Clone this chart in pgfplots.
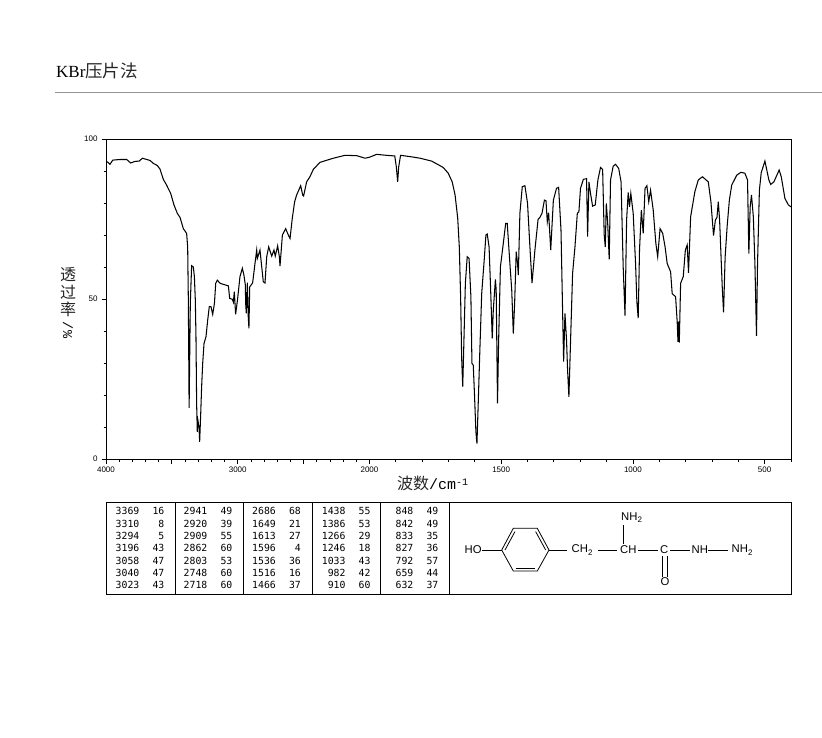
\documentclass[border=0pt]{standalone}
\usepackage{pgfplots}
\pgfplotsset{compat=1.18}
\usepackage{pgfplotstable}
\usepackage{fontspec}
\setmainfont{Liberation Serif}
\newfontfamily\cjk{Noto Sans CJK SC}
\newfontfamily\lsans{Liberation Sans}
\newfontfamily\dmono{DejaVu Sans Mono}
\newfontfamily\lmono{Liberation Mono}
\pgfplotstableread{
wn T
4000 93.1
3985 92.7
3970 92.1
3949 93.4
3894 93.6
3843 93.6
3813 92.5
3780 93
3747 93.1
3724 94
3666 93.3
3641 92.4
3610 91.7
3590 90.6
3565 87.4
3540 85.6
3509 83
3484 79.4
3459 76.8
3438 75.5
3413 72
3388 70.5
3380 66.3
3375 49.7
3369 16
3360 48.6
3350 60.4
3337 60
3329 57
3322 49.7
3317 38.2
3312 17.4
3307 8.5
3302 12
3294 10
3289 5.4
3281 14.2
3274 22.6
3266 29.9
3256 36.1
3241 38.2
3228 43.4
3216 47.6
3203 47.6
3190 45.2
3177 48.6
3167 54.9
3155 55.9
3134 54.9
3071 54.1
3061 50.2
3041 49.9
3033 49
3026 52.3
3016 45.2
3001 50
2983 57
2965 59.6
2953 57.5
2942 54.3
2940 48.8
2935 45.5
2927 55.1
2920 44.4
2915 40.8
2909 53.8
2887 55
2869 61.1
2856 65.3
2851 62.7
2831 65.3
2818 60.1
2806 55.4
2793 55
2780 63.2
2765 66.3
2742 63.4
2725 65.3
2715 63.4
2697 66.6
2684 63.2
2679 60.3
2661 70
2636 72
2616 70
2603 68.9
2586 75.2
2568 80.4
2553 82.5
2522 85.4
2507 82.5
2500 82.2
2477 86.6
2452 88.2
2426 90.5
2376 92.7
2274 94
2186 94.9
2097 94.8
2034 94
2000 94.3
1973 95.2
1935 94.9
1904 94.7
1898 91.3
1893 86.6
1889 91.3
1882 94.9
1846 94.5
1808 94
1764 93.1
1720 91.1
1701 89.3
1686 86.6
1675 82.5
1665 75.2
1659 66.3
1654 50.7
1650 31.4
1646 22.6
1643 32
1636 54.9
1629 63.2
1622 62.7
1615 50.7
1611 29.9
1606 29.3
1601 19.4
1596 8.5
1592 4.8
1586 20.5
1581 34
1574 51.7
1565 61.6
1558 70
1553 70.3
1546 66.3
1540 52.8
1534 37.7
1530 46.5
1522 56.1
1519 52.8
1514 17.4
1510 36
1503 60
1492 67.4
1483 73.6
1477 73.6
1467 61.1
1460 52.8
1454 39.2
1449 48.6
1443 64.8
1438 61.1
1435 57.5
1429 76.8
1420 85.1
1410 85.4
1400 79.9
1391 66.3
1383 55
1372 65.3
1360 74.9
1353 75.5
1345 76.8
1336 80.9
1330 80.7
1325 74.1
1320 77
1312 65.3
1302 80.9
1290 84.6
1282 84.9
1273 71.5
1267 46.5
1263 30.4
1258 45.5
1252 37.2
1248 27.8
1243 19.4
1237 36.1
1229 58
1220 66.3
1211 76.8
1205 77.3
1199 84.6
1188 87.4
1176 87.6
1172 69.5
1167 86.6
1161 83
1153 79
1143 79.4
1133 87.2
1123 91.1
1115 90.5
1109 70
1105 66.3
1101 79.9
1096 74.1
1090 62.4
1085 87.2
1075 91.5
1066 92.1
1054 90.8
1045 86.6
1037 60.1
1030 44.8
1024 74.7
1018 83.3
1013 78.8
1008 83
999 76.8
990 61.1
985 49.1
980 44
975 65.3
968 77.8
961 70.5
954 84.6
947 85.4
940 80.4
933 84
923 77.8
913 67.4
906 63.2
897 72
887 70.5
878 66.3
870 61.1
857 58.5
851 51.7
838 50.7
832 42.9
829 36.6
827 42.9
824 36.4
819 54.9
809 57
801 65.3
794 66.9
789 58.2
781 75.7
765 83.5
752 87.2
736 88.2
714 86.6
704 80.4
694 69.8
687 74.7
681 75.5
676 80.4
671 74.7
667 66.3
661 53.8
656 45.8
650 63.2
642 73.1
634 80.9
625 85.6
606 88.7
590 89.6
575 89.3
565 87.2
560 64.2
555 78.8
550 82.5
543 75.7
537 61.1
531 38.5
527 61.1
520 84
513 89.5
499 93.1
484 87.2
477 85.8
465 86.6
445 90.3
437 88.2
423 81.4
410 79.4
400 78.8
}\spectrum
\begin{document}
\begin{tikzpicture}
\path[use as bounding box] (0pt,0pt) rectangle (822pt,-737pt);
\begin{axis}[
  at={(106pt,-459pt)}, anchor=south west,
  scale only axis, width=685pt, height=320pt,
  x coord trafo/.code={\pgfmathparse{#1>=2000?(4000-#1)/2:1000+(2000-#1)}},
  xmin=4000, xmax=400, ymin=0, ymax=100,
  axis line style={black,line width=0.9pt},
  xtick={4000,3500,3000,2500,2000,1500,1000,500},
  xticklabels={4000,,3000,,2000,1500,1000,500},
  minor xtick={3900,3800,3700,3600,3400,3300,3200,3100,2900,2800,2700,2600,2400,2300,2200,2100,1900,1800,1700,1600,1400,1300,1200,1100,900,800,700,600,400},
  ytick={0,50,100}, yticklabels={0,50,100},
  minor ytick={10,20,30,40,60,70,80,90},
  tick align=outside, xtick pos=lower, ytick pos=left,
  major tick length=4.5pt, minor tick length=2.5pt,
  tick style={black,line width=0.8pt},
  every tick label/.append style={font=\lsans\fontsize{8}{8}\selectfont},
  yticklabel style={xshift=-0.5pt},
  clip=true,
]
\addplot[black,line width=1.05pt,sharp plot,no marks,line join=miter] table[x=wn,y=T] {\spectrum};
\end{axis}
\begin{scope}[x=1pt,y=-1pt]
% title
\node[anchor=west,inner sep=0pt,font=\fontsize{17}{17}\selectfont] at (56,71) {KBr{\cjk\color{black!85}\fontsize{17.5}{17.5}\selectfont 压片法}};
\draw[color=black!42,line width=1.3pt] (55,92.7) -- (822,92.7);
% y label
\foreach \c/\yy in {透/275,过/292,率/309}
  \node[inner sep=0pt,font=\cjk\fontsize{16}{16}\selectfont,color=black!85] at (68,\yy) {\c};
\node[inner sep=0pt,rotate=-90,font=\lmono\fontsize{13.5}{14}\selectfont] at (68,330) {/\%};
% x label
\node[anchor=west,inner sep=0pt,font=\lmono\fontsize{15}{15}\selectfont] at (397,483) {{\cjk\fontsize{16}{16}\selectfont\color{black!85}波数}/cm\raisebox{4pt}{\fontsize{10}{10}\selectfont -1}};
% table frame
\draw[black,line width=0.9pt] (106,502) rectangle (791,594);
\foreach \xx in {175.3,243.3,312.3,380.3,449.4} \draw[black,line width=0.9pt] (\xx,502)--(\xx,594);
\def\tnum#1#2#3#4{\node[anchor=east,inner sep=0pt,font=\dmono\fontsize{9.8}{10}\selectfont] at (#1,#2) {#3};\node[anchor=east,inner sep=0pt,font=\dmono\fontsize{9.8}{10}\selectfont] at (#1+25,#2) {#4};}
\tnum{139.5}{510.5}{3369}{16}\tnum{139.5}{523.5}{3310}{8}\tnum{139.5}{536}{3294}{5}\tnum{139.5}{548}{3196}{43}\tnum{139.5}{561}{3058}{47}\tnum{139.5}{573}{3040}{47}\tnum{139.5}{585}{3023}{43}
\tnum{207.5}{510.5}{2941}{49}\tnum{207.5}{523.5}{2920}{39}\tnum{207.5}{536}{2909}{55}\tnum{207.5}{548}{2862}{60}\tnum{207.5}{561}{2803}{53}\tnum{207.5}{573}{2748}{60}\tnum{207.5}{585}{2718}{60}
\tnum{276}{510.5}{2686}{68}\tnum{276}{523.5}{1649}{21}\tnum{276}{536}{1613}{27}\tnum{276}{548}{1596}{4}\tnum{276}{561}{1536}{36}\tnum{276}{573}{1516}{16}\tnum{276}{585}{1466}{37}
\tnum{345.7}{510.5}{1438}{55}\tnum{345.7}{523.5}{1386}{53}\tnum{345.7}{536}{1266}{29}\tnum{345.7}{548}{1246}{18}\tnum{345.7}{561}{1033}{43}\tnum{345.7}{573}{982}{42}\tnum{345.7}{585}{910}{60}
\tnum{413.5}{510.5}{848}{49}\tnum{413.5}{523.5}{842}{49}\tnum{413.5}{536}{833}{35}\tnum{413.5}{548}{827}{36}\tnum{413.5}{561}{792}{57}\tnum{413.5}{573}{659}{44}\tnum{413.5}{585}{632}{37}
% structure
\begin{scope}[black,line width=0.8pt]
\draw (501.7,550)--(513.3,528.3)--(537.3,528.3)--(549,550)--(537.3,571)--(513.3,571)--cycle;
\draw (505,550)--(515,531.5);
\draw (535.6,531.5)--(545.7,550);
\draw (515.5,568)--(535.3,568);
\draw (482,550)--(501.7,550);
\draw (549,550)--(567,550);
\draw (598,550)--(617,550);
\draw (623.3,525)--(623.3,544.3);
\draw (638,550)--(658,550);
\draw (670,550)--(690,550);
\draw (708,550)--(728,550);
\draw (662.6,556)--(662.6,576.7);
\draw (666.9,556)--(666.9,576.7);
\end{scope}
\def\chem#1#2#3{\node[anchor=west,inner sep=0pt,font=\lsans\fontsize{11.3}{12}\selectfont] at (#1,#2) {#3};}
\def\sub#1{\raisebox{-2.5pt}{\fontsize{8}{8}\selectfont #1}}
\chem{464.5}{550}{HO}
\chem{571.5}{550}{CH\sub{2}}
\chem{620}{550}{CH}
\chem{621}{517.7}{NH\sub{2}}
\chem{660}{550}{C}
\chem{691.5}{550}{NH}
\chem{731.5}{550}{NH\sub{2}}
\chem{660.5}{581.7}{O}
\end{scope}
\end{tikzpicture}
\end{document}
